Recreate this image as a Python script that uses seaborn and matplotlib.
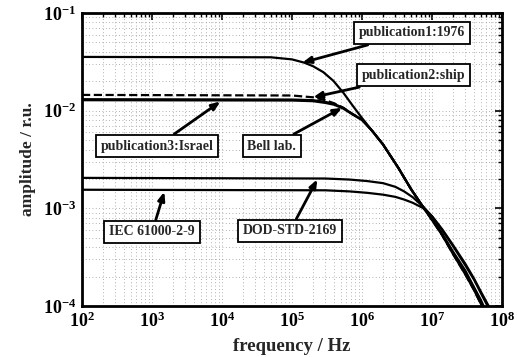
import numpy as np
import pandas as pd
import matplotlib
matplotlib.use("Agg")
import matplotlib.pyplot as plt
import seaborn as sns
from matplotlib.ticker import FuncFormatter, LogLocator, NullFormatter

# ---------------- data ----------------
f_pub1 = [1e2, 5e4, 1e5, 1.5e5, 2e5, 2.8e5, 3.9e5, 5.4e5, 7.4e5, 1e6, 1.4e6, 2e6,
          3.3e6, 5e6, 7.4e6, 1e7, 1.4e7, 2e7, 3e7, 4e7, 5e7, 6e7]
a_pub1 = [0.0355, 0.0352, 0.0335, 0.0310, 0.0285, 0.0248, 0.0202, 0.0153, 0.0112,
          0.0084, 0.0062, 0.0045, 0.0026, 0.00158, 0.00104, 0.00076, 0.00053,
          0.00034, 0.00021, 0.000145, 0.000105, 0.000078]

f_pub2 = [1e2, 1e5, 2e5, 3e5, 4e5, 5.4e5, 7.4e5, 1e6, 1.4e6, 2e6, 3.3e6, 5e6,
          7.4e6, 1e7, 1.4e7, 2e7, 3e7, 4e7, 5e7, 6e7]
a_pub2 = [0.0145, 0.0143, 0.0137, 0.0128, 0.0119, 0.0107, 0.0092, 0.0082, 0.0062,
          0.0045, 0.0026, 0.00158, 0.00104, 0.00076, 0.00053, 0.00034, 0.00021,
          0.000145, 0.000105, 0.000078]

f_pub3 = [1e2, 1e5, 2e5, 3e5, 4e5, 5.4e5, 7.4e5, 1e6, 1.4e6, 2e6, 3.3e6, 5e6,
          7.4e6, 1e7, 1.4e7, 2e7, 3e7, 4e7, 5e7, 6e7]
a_pub3 = [0.0131, 0.0130, 0.0128, 0.0123, 0.0117, 0.0107, 0.0092, 0.0081, 0.0062,
          0.0045, 0.0026, 0.00158, 0.00104, 0.00077, 0.00054, 0.00035, 0.00022,
          0.000150, 0.000110, 0.000082]

f_bell = [1e2, 1e5, 2e5, 3e5, 4e5, 5.4e5, 7.4e5, 1e6, 1.4e6, 2e6, 3.3e6, 5e6,
          7.4e6, 1e7, 1.4e7, 2e7, 3e7, 4e7, 5e7, 6e7]
a_bell = [0.0128, 0.0127, 0.0125, 0.0120, 0.0115, 0.0105, 0.0091, 0.0080, 0.0062,
          0.0045, 0.0026, 0.00158, 0.00104, 0.00078, 0.00055, 0.00036, 0.00023,
          0.000155, 0.000115, 0.000086]

f_dod = [1e2, 3e5, 6.7e5, 1.2e6, 2e6, 3e6, 4e6, 5.3e6, 7.4e6, 1e7, 1.4e7, 2e7,
         3e7, 4e7, 5e7, 6e7, 7.5e7]
a_dod = [0.00205, 0.00202, 0.00197, 0.00190, 0.00181, 0.00166, 0.00149, 0.00130,
         0.00105, 0.00083, 0.00060, 0.00041, 0.00026, 0.000185, 0.000135,
         0.000105, 0.00008]

f_iec = [1e2, 3e5, 6.7e5, 1.2e6, 2e6, 3e6, 4e6, 5.3e6, 7.4e6, 1e7, 1.4e7, 2e7,
         3e7, 4e7, 5e7, 6e7, 7.5e7]
a_iec = [0.00155, 0.00153, 0.00149, 0.00144, 0.00138, 0.00131, 0.00123, 0.00114,
         0.00101, 0.00083, 0.00061, 0.00042, 0.00027, 0.00019, 0.00014,
         0.00011, 0.000082]

labels = ["publication1:1976", "publication2:ship", "Bell lab.",
          "publication3:Israel", "IEC 61000-2-9", "DOD-STD-2169"]

# ---------------- style ----------------
sns.set_style("white")
plt.rcParams["font.family"] = ["Liberation Serif", "DejaVu Serif"]
plt.rcParams["font.weight"] = "bold"
plt.rcParams["mathtext.fontset"] = "custom"
plt.rcParams["mathtext.rm"] = "Liberation Serif:bold"
plt.rcParams["mathtext.bf"] = "Liberation Serif:bold"
plt.rcParams["mathtext.it"] = "Liberation Serif:italic:bold"

fig = plt.figure(figsize=(5.17, 3.57), dpi=100)
ax = fig.add_axes([82 / 517, 1 - 306 / 357, 420 / 517, 293 / 357])

curves = [
    (f_pub1, a_pub1, "-"),
    (f_pub2, a_pub2, "--"),
    (f_pub3, a_pub3, "-"),
    (f_bell, a_bell, "-"),
    (f_dod, a_dod, "-"),
    (f_iec, a_iec, "-"),
]
for fx, ay, ls in curves:
    df = pd.DataFrame({"f": fx, "a": ay})
    sns.lineplot(data=df, x="f", y="a", ax=ax, color="black", lw=1.6,
                 linestyle=ls, sort=True, estimator=None)

ax.set_xscale("log")
ax.set_yscale("log")
ax.set_xlim(1e2, 1e8)
ax.set_ylim(1e-4, 1e-1)

ax.xaxis.set_major_locator(LogLocator(base=10, numticks=20))
ax.yaxis.set_major_locator(LogLocator(base=10, numticks=20))
ax.xaxis.set_minor_locator(LogLocator(base=10, subs=np.arange(2, 10), numticks=50))
ax.yaxis.set_minor_locator(LogLocator(base=10, subs=np.arange(2, 10), numticks=50))
ax.xaxis.set_minor_formatter(NullFormatter())
ax.yaxis.set_minor_formatter(NullFormatter())
fmt = FuncFormatter(lambda v, p: r"$\mathrm{10^{%d}}$" % int(round(np.log10(v))))
ax.xaxis.set_major_formatter(fmt)
ax.yaxis.set_major_formatter(fmt)

ax.grid(which="both", linestyle=(0, (1, 3)), color="0.6", lw=0.6)
ax.tick_params(which="both", direction="in", top=True, right=True, colors="black")
ax.tick_params(which="major", length=5, width=1.2, labelsize=13, pad=4)
ax.tick_params(which="minor", length=3, width=1.0)
for s in ax.spines.values():
    s.set_linewidth(2.0)
    s.set_color("black")

ax.set_xlabel("frequency / Hz", fontsize=13.5, fontweight="bold", labelpad=5)
ax.set_ylabel("amplitude / r.u.", fontsize=12.5, fontweight="bold", labelpad=5)

# ---------------- annotations ----------------
box = dict(boxstyle="square,pad=0.35", fc="white", ec="black", lw=1.3)
arrow = dict(arrowstyle="-|>,head_length=0.5,head_width=0.2", lw=2.0, color="black",
             shrinkA=0, shrinkB=0)
ann = [
    (labels[0], (1.4e5, 0.031), (0.786, 0.932)),
    (labels[1], (2.0e5, 0.0137), (0.790, 0.788)),
    (labels[2], (5.2e5, 0.0107), (0.452, 0.546)),
    (labels[3], (9.5e3, 0.0124), (0.179, 0.546)),
    (labels[4], (1.5e3, 0.00148), (0.167, 0.253)),
    (labels[5], (2.3e5, 0.00198), (0.495, 0.256)),
]
for txt, xy, xyt in ann:
    ax.annotate(txt, xy=xy, xycoords="data", xytext=xyt, textcoords="axes fraction",
                ha="center", va="center", fontsize=10, fontweight="bold",
                bbox=box, arrowprops=arrow)

fig.savefig("out.png", dpi=100)
